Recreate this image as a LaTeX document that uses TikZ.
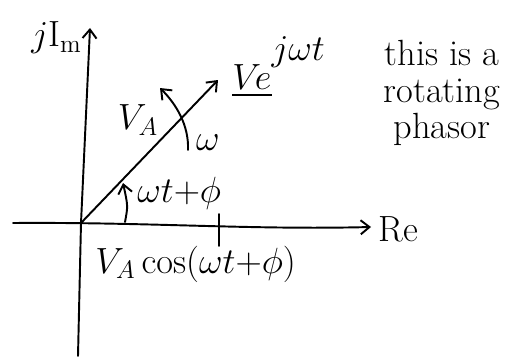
\documentclass[tikz,border=0pt]{standalone}
\usepackage{amsmath,amssymb}
\usepackage{tikz}
\usetikzlibrary{arrows.meta,positioning,calc}

\tikzset{
  hand/.style={line width=1.1pt,line cap=round,line join=round},
  barb/.style={-{Straight Barb[length=5pt,width=8pt]}},
  lab/.style={inner sep=0pt,font=\huge}
}

\begin{document}
\begin{tikzpicture}[x=0.02cm,y=-0.02cm]
  \useasboundingbox (0,0) rectangle (509,358);
  % axes
  \coordinate (O) at (81,223);
  \coordinate (ybot) at (78,356);
  \coordinate (ytop) at (90,28);
  \coordinate (xleft) at (13,223);
  \coordinate (xright) at (371,227);
  \draw[hand,barb] (ybot) -- (O) -- (ytop);
  \draw[hand,barb] (xleft) .. controls (150,222) and (250,230) .. (xright);
  \node[lab,anchor=west] (re) at (378,229) {Re};
  \node[lab,anchor=east] (im) at (82,38) {$j\mathrm{I}_{\mathrm{m}}$};
  % phasor
  \coordinate (tip) at (218,80);
  \draw[hand,barb] (O) -- (tip);
  \node[lab,anchor=base west] (vejwt) at (232,90) {$\underline{V\!e}$\raisebox{17pt}{$j\omega t$}};
  \node[lab] (va) at (138,120) {$V_A$};
  % rotation
  \coordinate (wlow) at (188,150);
  \coordinate (whigh) at (160,88);
  \draw[hand,barb] (wlow) .. controls (189,125) and (176,104) .. (whigh);
  \node[lab] (omega) at (208,143) {$\omega$};
  % angle
  \coordinate (alow) at (125,222);
  \coordinate (ahigh) at (123,183);
  \draw[hand,barb] (alow) .. controls (128,206) .. (ahigh);
  \node[lab,anchor=west] (angle) at (137,193) {$\omega t{+}\phi$};
  % projection
  \coordinate (tkup) at (219,214);
  \coordinate (tkdn) at (219,246);
  \draw[hand] (tkup) -- (tkdn);
  \node[lab,anchor=west] (proj) at (95,264) {$V_A\cos(\omega t{+}\phi)$};
  % note
  \node[inner sep=0pt,align=center,font={\fontsize{20.74pt}{21pt}\selectfont}] (note) at (442,93) {this is a\\rotating\\phasor};
\end{tikzpicture}
\end{document}
